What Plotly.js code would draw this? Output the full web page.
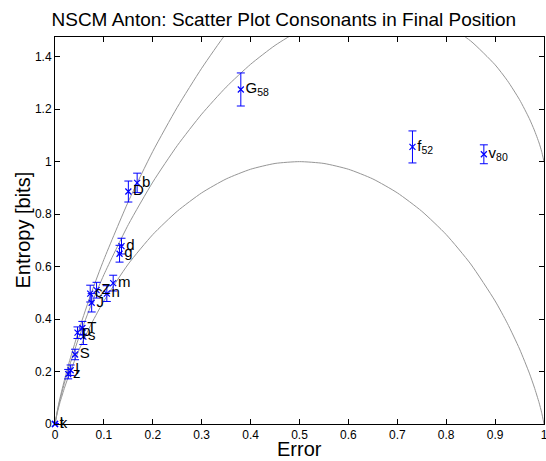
<!DOCTYPE html>
<html>
<head>
<meta charset="utf-8">
<script src="https://cdn.plot.ly/plotly-3.0.1.min.js"></script>
<style>html,body{margin:0;padding:0;background:#fff;}#chart{width:546px;height:461px;}</style>
</head>
<body>
<div id="chart"></div>
<script>
// Consonant scatter points
var labels = ["t","k","z","l","S","p","s","T","J","c","Z","n","m","g","d","D","b","G","f","v"];
var subs   = ["","","","","","","","","","","","","","","","","","58","52","80"];
var errX   = [0,0,0.027,0.032,0.041,0.046,0.058,0.056,0.075,0.072,0.085,0.106,0.119,0.132,0.136,0.150,0.168,0.380,0.731,0.877];
var entY   = [0,0,0.190,0.205,0.265,0.348,0.333,0.366,0.462,0.497,0.510,0.497,0.537,0.649,0.678,0.886,0.919,1.275,1.056,1.028];
var errBar = [0,0,0.018,0.02,0.02,0.022,0.03,0.025,0.035,0.032,0.03,0.03,0.03,0.032,0.03,0.04,0.037,0.063,0.061,0.036];

// Reference curves (binary entropy and two upper bounds)
var curveX  = [0,0.005,0.01,0.02,0.03,0.05,0.075,0.1,0.15,0.2,0.25,0.3,0.35,0.4,0.45,0.5,0.55,0.6,0.65,0.7,0.75,0.8,0.85,0.9,0.925,0.95,0.97,0.98,0.99,0.995,1];
var curveH  = [0,0.045,0.081,0.141,0.194,0.286,0.384,0.469,0.610,0.722,0.811,0.881,0.934,0.971,0.993,1,0.993,0.971,0.934,0.881,0.811,0.722,0.610,0.469,0.384,0.286,0.194,0.141,0.081,0.045,0];
var curveM3 = [0,0.050,0.091,0.161,0.224,0.336,0.459,0.569,0.760,0.922,1.061,1.181,1.284,1.371,1.443,1.5,1.543,1.571,1.584,1.581,1.561,1.522,1.460,1.369,1.309,1.236,1.164,1.121,1.071,1.040,1.0];
var curveX4 = [0,0.005,0.01,0.02,0.03,0.05,0.075,0.1,0.15,0.2,0.25,0.3,0.35,0.4];
var curveM4 = [0,0.053,0.097,0.173,0.242,0.365,0.503,0.627,0.848,1.039,1.207,1.356,1.489,1.605];

var xTicks = [0,0.1,0.2,0.3,0.4,0.5,0.6,0.7,0.8,0.9,1];
var yTicks = [0,0.2,0.4,0.6,0.8,1,1.2,1.4];

var titleText = 'NSCM Anton: Scatter Plot Consonants in Final Position';
var xTitle = 'Error';
var yTitle = 'Entropy [bits]';

var texts = labels.map(function(l,i){ return subs[i] ? l + '<sub>' + subs[i] + '</sub>' : l; });

var FONT = 'Liberation Sans, Arial, Helvetica, sans-serif';
var grey = {color:'rgb(150,150,150)', width:1, shape:'spline', smoothing:0.6};
var traces = [
  {x:curveX, y:curveH, mode:'lines', line:grey, hoverinfo:'skip'},
  {x:curveX, y:curveM3, mode:'lines', line:grey, hoverinfo:'skip'},
  {x:curveX4, y:curveM4, mode:'lines', line:grey, hoverinfo:'skip'},
  {x:errX, y:entY, mode:'markers+text', text:texts, textposition:'middle right',
   textfont:{family:FONT, size:15, color:'#000'},
   marker:{symbol:'x-thin', size:6, color:'#0000ff', line:{color:'#0000ff', width:1.2}},
   error_y:{type:'data', array:errBar, visible:true, color:'#0000ff', thickness:1, width:4},
   cliponaxis:false}
];

var axisCommon = {
  showline:true, mirror:'ticks', linecolor:'#000', linewidth:1,
  ticks:'inside', ticklen:5, tickcolor:'#000', showgrid:false, zeroline:false,
  ticklabeloverflow:'allow',
  tickfont:{family:FONT, size:12, color:'#000'}
};

var layout = {
  width:546, height:461,
  margin:{l:55, r:2, t:37, b:37},
  paper_bgcolor:'#fff', plot_bgcolor:'#fff',
  showlegend:false,
  font:{family:FONT, color:'#000'},
  title:{text:titleText, xref:'paper', x:0.468, xanchor:'center', y:0.957, yanchor:'middle',
         font:{family:FONT, size:19, color:'#000'}},
  xaxis:Object.assign({}, axisCommon, {range:[0,1], tickvals:xTicks, ticktext:xTicks.map(String)}),
  yaxis:Object.assign({}, axisCommon, {range:[0,1.475], tickvals:yTicks, ticktext:yTicks.map(String)}),
  annotations:[
    {text:xTitle, xref:'paper', yref:'paper', x:0.5, y:0, xanchor:'center', yanchor:'middle', yshift:-25,
     showarrow:false, font:{family:FONT, size:20, color:'#000'}},
    {text:yTitle, xref:'paper', yref:'paper', x:0, y:0.5, xanchor:'center', yanchor:'middle', xshift:-33,
     textangle:-90, showarrow:false, font:{family:FONT, size:20, color:'#000'}}
  ]
};

Plotly.newPlot('chart', traces, layout, {staticPlot:true, displayModeBar:false});
</script>
</body>
</html>
